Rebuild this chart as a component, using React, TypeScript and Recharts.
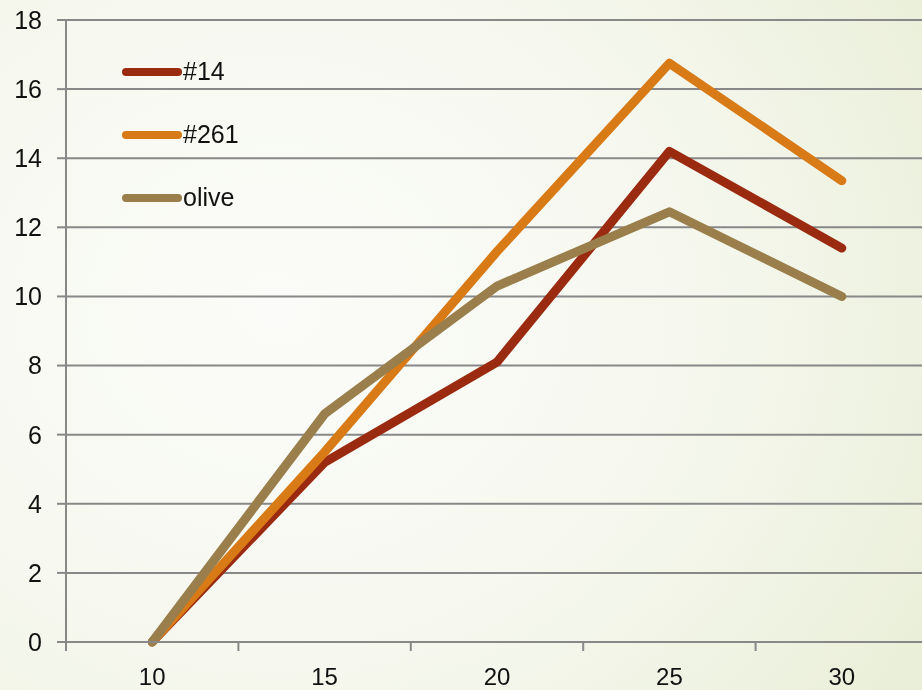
import React from "react";
import { LineChart, Line, XAxis, YAxis, CartesianGrid, Legend } from "recharts";

const categories = ["10", "15", "20", "25", "30"];
const series14 = [0, 5.2, 8.1, 14.2, 11.4];
const series261 = [0, 5.5, 11.3, 16.75, 13.35];
const seriesOlive = [0, 6.6, 10.3, 12.45, 10.0];
const yTicks = [0, 2, 4, 6, 8, 10, 12, 14, 16, 18];

const data = categories.map((c, i) => ({
  x: c,
  s14: series14[i],
  s261: series261[i],
  olive: seriesOlive[i],
}));

const FONT = "'Liberation Sans', Arial, sans-serif";
const GRID = "#888888";

const XTick = (props: any) => {
  const { x, y, payload } = props;
  const off = payload && typeof payload.offset === "number" ? payload.offset : 86;
  return (
    <g>
      <line x1={x - off} x2={x - off} y1={y - 8} y2={y + 1} stroke={GRID} strokeWidth={2} />
      <text x={x} y={y + 35} textAnchor="middle" fontSize={24} fill="#111" fontFamily={FONT}>
        {payload.value}
      </text>
    </g>
  );
};

const LegendContent = (props: any) => {
  const { payload } = props;
  return (
    <div>
      {(payload || []).map((p: any, i: number) => (
        <div key={i} style={{ display: "flex", alignItems: "center", height: 63 }}>
          <svg width={66} height={12} style={{ display: "block" }}>
            <line x1={9} x2={61} y1={6} y2={6} stroke={p.color} strokeWidth={8} strokeLinecap="round" />
          </svg>
          <span style={{ fontFamily: FONT, fontSize: 25, color: "#111", marginLeft: 0 }}>{p.value}</span>
        </div>
      ))}
    </div>
  );
};

export default function App() {
  return (
    <div
      style={{
        position: "fixed",
        left: 0,
        top: 0,
        width: 922,
        height: 690,
        overflow: "hidden",
        background:
          "radial-gradient(ellipse 95% 110% at 30% 45%, #fbfcf9 0%, #f6f8ef 45%, #e6ecd2 100%)",
      }}
    >
      <LineChart
        width={928}
        height={690}
        data={data}
        margin={{ top: 20, right: 0, bottom: 0, left: 0 }}
      >
        <CartesianGrid horizontal vertical={false} stroke={GRID} strokeWidth={2} />
        <XAxis
          dataKey="x"
          scale="band"
          height={48}
          axisLine={{ stroke: GRID, strokeWidth: 2 }}
          tickLine={false}
          tick={<XTick />}
          interval={0}
        />
        <YAxis
          width={66}
          domain={[0, 18]}
          ticks={yTicks}
          interval={0}
          axisLine={{ stroke: GRID, strokeWidth: 2 }}
          tickLine={{ stroke: GRID, strokeWidth: 2 }}
          tickSize={9}
          tickMargin={15}
          tick={{ fontSize: 25, fill: "#111", fontFamily: FONT }}
        />
        <Legend
          layout="vertical"
          verticalAlign="middle"
          align="center"
          content={<LegendContent />}
          wrapperStyle={{ left: 117, top: 40, width: 200 }}
        />
        <Line
          dataKey="s14"
          name="#14"
          stroke="#9b2b10"
          strokeWidth={9}
          dot={false}
          strokeLinecap="round"
          strokeLinejoin="round"
          isAnimationActive={false}
        />
        <Line
          dataKey="s261"
          name="#261"
          stroke="#d87a16"
          strokeWidth={9}
          dot={false}
          strokeLinecap="round"
          strokeLinejoin="round"
          isAnimationActive={false}
        />
        <Line
          dataKey="olive"
          name="olive"
          stroke="#9a7e4b"
          strokeWidth={9}
          dot={false}
          strokeLinecap="round"
          strokeLinejoin="round"
          isAnimationActive={false}
        />
      </LineChart>
    </div>
  );
}
